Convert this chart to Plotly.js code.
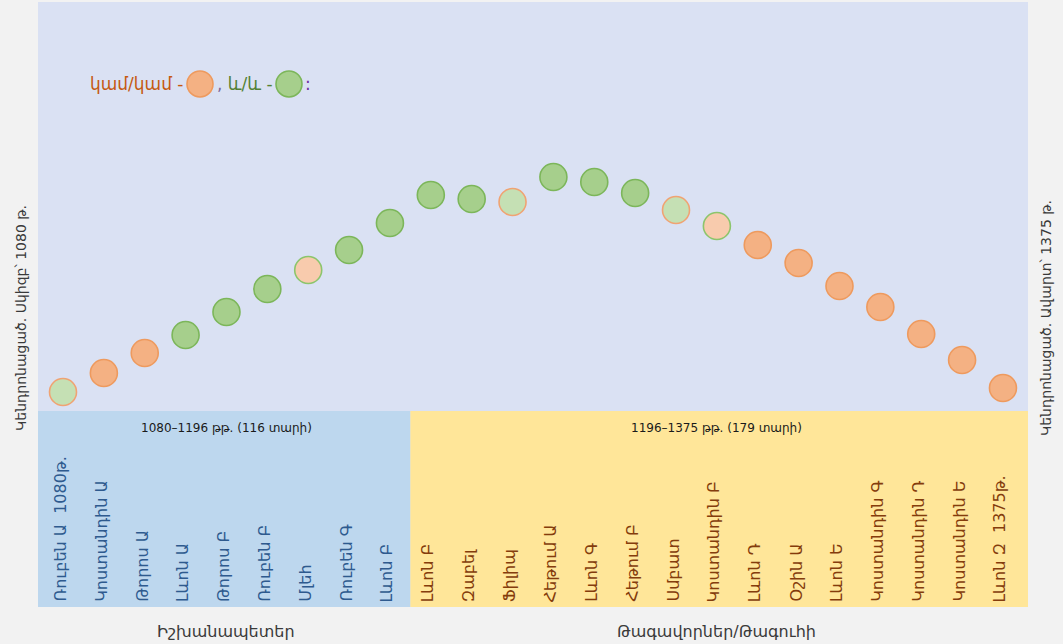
<!DOCTYPE html>
<html>
<head>
<meta charset="utf-8">
<script src="https://cdn.plot.ly/plotly-3.0.1.min.js"></script>
<style>
  html, body { margin: 0; padding: 0; background: #f2f2f2; }
  #chart { width: 1063px; height: 644px; }
</style>
</head>
<body>
<div id="chart"></div>
<script>
// ---- data ----
const rulers = [
  'Ռուբեն Ա\u00a0\u00a01080թ.', 'Կոստանդին Ա', 'Թորոս Ա', 'Լևոն Ա', 'Թորոս Բ',
  'Ռուբեն Բ', 'Մլեհ', 'Ռուբեն Գ', 'Լևոն Բ',
  'Լևոն Բ', 'Զաբել', 'Ֆիլիպ', 'Հեթում Ա', 'Լևոն Գ', 'Հեթում Բ', 'Սմբատ',
  'Կոստանդին Բ', 'Լևոն Դ', 'Օշին Ա', 'Լևոն Ե', 'Կոստանդին Գ', 'Կոստանդին Դ',
  'Կոստանդին Ե', 'Լևոն Զ\u00a0\u00a01375թ.'
];
const heights = [19, 38, 58, 76, 99, 122, 141, 161, 188, 216, 212, 209,
                 234, 229, 218, 201, 185, 166, 148, 125, 104, 77, 51, 23];
// g = և/և (green), o = կամ/կամ (orange), go = green fill / orange ring, og = orange fill / green ring
const kinds = ['go', 'o', 'o', 'g', 'g', 'g', 'og', 'g', 'g', 'g', 'g', 'go',
               'g', 'g', 'g', 'go', 'og', 'o', 'o', 'o', 'o', 'o', 'o', 'o'];
const princeCount = 9;
const groupNames = ['Իշխանապետեր', 'Թագավորներ/Թագուհի'];
const groupSpans = ['1080–1196 թթ. (116 տարի)', '1196–1375 թթ. (179 տարի)'];
const sideTitles = ['Կենդրոնացած. Սկիզբ՝ 1080 թ.', 'Կենդրոնացած. Ավարտ՝ 1375 թ.'];
const legendOr = 'կամ/կամ -';
const legendAnd = 'և/և -';

// ---- styles ----
const fillMap = { g: '#a6cf8c', o: '#f4b183', go: '#c5e0b4', og: '#f8cbad' };
const lineMap = { g: '#7cb65a', o: '#ee9a5e', go: '#f0a373', og: '#8cc56c' };
const FONT = 'DejaVu Sans, Noto Sans, sans-serif';

const xs = rulers.map((_, i) => i);
const xr = [-0.6117, 23.6128];
const boundary = princeCount - 0.5;
const mean = a => a.reduce((s, v) => s + v, 0) / a.length;
const leftCenter = mean(xs.slice(0, princeCount));
const rightCenter = mean(xs.slice(princeCount));

const trace = {
  x: xs, y: heights, type: 'scatter', mode: 'markers',
  marker: {
    size: 27,
    color: kinds.map(k => fillMap[k]),
    line: { color: kinds.map(k => lineMap[k]), width: 1.6 }
  },
  hoverinfo: 'skip', showlegend: false
};

const annotations = [];
rulers.forEach((name, i) => {
  annotations.push({
    x: i, y: -193, xref: 'x', yref: 'y', text: name, showarrow: false,
    textangle: -90, xanchor: 'center', yanchor: 'bottom', xshift: -3,
    font: { family: FONT, size: 16, color: i < princeCount ? '#2e5a8e' : '#843c0c' }
  });
});
[leftCenter, rightCenter].forEach((cx, g) => {
  annotations.push({
    x: cx, y: -17, xref: 'x', yref: 'y', text: groupSpans[g], showarrow: false,
    xanchor: 'center', yanchor: 'middle',
    font: { family: FONT, size: 12, color: '#1a1a1a' }
  });
  annotations.push({
    x: cx, y: -0.0413, xref: 'x', yref: 'paper', text: groupNames[g], showarrow: false,
    xanchor: 'center', yanchor: 'middle', font: { family: FONT, size: 16, color: '#3a3a3a' }
  });
});
annotations.push({
  x: -0.01717, y: 0.4777, xref: 'paper', yref: 'paper', text: sideTitles[0],
  showarrow: false, textangle: -90, xanchor: 'center', yanchor: 'middle',
  font: { family: FONT, size: 14, color: '#3a3a3a' }
});
annotations.push({
  x: 1.0182, y: 0.4777, xref: 'paper', yref: 'paper', text: sideTitles[1],
  showarrow: false, textangle: -90, xanchor: 'center', yanchor: 'middle',
  font: { family: FONT, size: 14, color: '#3a3a3a' }
});
// legend-like sentence at top
const legY = 0.8645;
annotations.push({
  x: 0.1485, y: legY, xref: 'paper', yref: 'paper', text: legendOr, showarrow: false,
  xanchor: 'right', yanchor: 'middle', font: { family: FONT, size: 17, color: '#c55a11' }
});
annotations.push({
  x: 0.1788, y: legY, xref: 'paper', yref: 'paper',
  text: '<span style="color:#7f6a9a">,</span> ' + legendAnd, showarrow: false,
  xanchor: 'left', yanchor: 'middle', font: { family: FONT, size: 17, color: '#548235' }
});
annotations.push({
  x: 0.2677, y: legY, xref: 'paper', yref: 'paper', text: ':', showarrow: false,
  xanchor: 'left', yanchor: 'middle', font: { family: FONT, size: 17, color: '#7030a0' }
});

const circle = (px, fill, line) => ({
  type: 'circle', xref: 'paper', yref: 'paper', xsizemode: 'pixel', ysizemode: 'pixel',
  xanchor: (px - 38) / 990, yanchor: legY, x0: -13, x1: 13, y0: -13, y1: 13,
  fillcolor: fill, line: { color: line, width: 1.6 }, layer: 'above'
});

const shapes = [
  { type: 'rect', xref: 'x', yref: 'y', x0: xr[0], x1: boundary, y0: -196, y1: 0,
    fillcolor: '#bdd7ee', line: { width: 0 }, layer: 'below' },
  { type: 'rect', xref: 'x', yref: 'y', x0: boundary, x1: xr[1], y0: -196, y1: 0,
    fillcolor: '#ffe699', line: { width: 0 }, layer: 'below' },
  circle(200, fillMap.o, lineMap.o),
  circle(289, fillMap.g, lineMap.g)
];

const layout = {
  width: 1063, height: 644,
  margin: { l: 38, r: 35, t: 2, b: 37 },
  paper_bgcolor: '#f2f2f2', plot_bgcolor: '#dae1f3',
  xaxis: { range: xr, visible: false, fixedrange: true },
  yaxis: { range: [-196, 409], visible: false, fixedrange: true },
  shapes: shapes, annotations: annotations, showlegend: false
};

Plotly.newPlot('chart', [trace], layout, { staticPlot: true, displayModeBar: false });
</script>
</body>
</html>
